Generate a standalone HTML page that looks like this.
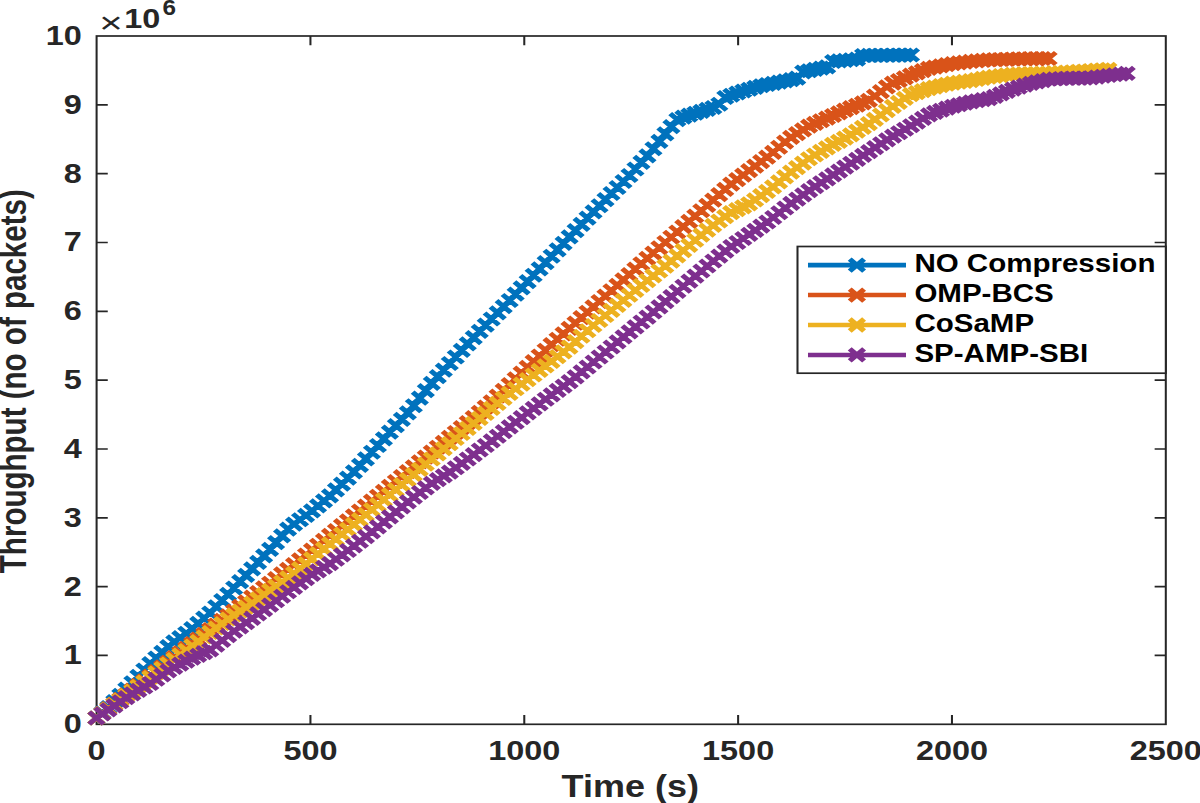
<!DOCTYPE html>
<html lang="en"><head><meta charset="utf-8"><title>Throughput vs Time</title>
<style>
html,body{margin:0;padding:0;background:#fff}
body{width:1200px;height:803px;overflow:hidden;position:relative}
svg{position:absolute;left:0;top:0;display:block}
text{font-family:"Liberation Sans",sans-serif;font-weight:bold;fill:#262626}
path,rect.f{fill:none}
</style></head><body>
<svg width="1200" height="803" viewBox="0 0 1200 803">
<rect width="1200" height="803" fill="#fff"/>
<g transform="scale(1.200 1)">
<rect class="f" x="80.50" y="36.00" width="891.00" height="688.30" stroke="#262626" stroke-width="1.70"/>
<path d="M258.70 724.30v-9.30M258.70 36.00v9.30M436.90 724.30v-9.30M436.90 36.00v9.30M615.10 724.30v-9.30M615.10 36.00v9.30M793.30 724.30v-9.30M793.30 36.00v9.30M80.50 655.47h9.30M971.50 655.47h-9.30M80.50 586.64h9.30M971.50 586.64h-9.30M80.50 517.81h9.30M971.50 517.81h-9.30M80.50 448.98h9.30M971.50 448.98h-9.30M80.50 380.15h9.30M971.50 380.15h-9.30M80.50 311.32h9.30M971.50 311.32h-9.30M80.50 242.49h9.30M971.50 242.49h-9.30M80.50 173.66h9.30M971.50 173.66h-9.30M80.50 104.83h9.30M971.50 104.83h-9.30" stroke="#262626" stroke-width="1.70"/>
<path d="M80.33 718.00L85.32 712.85L90.32 707.69L95.31 701.69L100.30 695.37L105.29 689.05L110.28 682.72L115.27 676.37L120.26 670.02L125.26 663.71L130.25 658.02L135.24 652.33L140.23 646.64L145.22 641.91L150.21 637.56L155.20 633.22L160.20 628.57L165.19 623.39L170.18 618.20L175.17 612.99L180.16 606.76L185.15 600.53L190.14 594.30L195.14 587.99L200.13 581.64L205.12 575.29L210.11 568.88L215.10 562.35L220.09 555.82L225.08 549.29L230.08 542.58L235.07 535.87L240.06 529.16L245.05 524.08L250.04 519.76L255.03 515.45L260.02 510.90L265.02 505.86L270.01 500.83L275.00 495.80L279.99 489.93L284.98 484.06L289.97 478.19L294.96 471.89L299.96 465.36L304.95 458.83L309.94 452.24L314.93 445.53L319.92 438.83L324.91 432.12L329.90 425.70L334.90 419.29L339.89 412.88L344.88 405.72L349.87 398.15L354.86 390.57L359.85 383.29L364.84 376.71L369.84 370.12L374.83 363.53L379.82 356.97L384.81 350.41L389.80 343.85L394.79 337.54L399.78 331.37L404.78 325.20L409.77 319.03L414.76 312.86L419.75 306.69L424.74 300.52L429.73 294.21L434.72 287.89L439.72 281.57L444.71 275.25L449.70 268.93L454.69 262.61L459.68 256.26L464.67 249.82L469.66 243.38L474.66 236.94L479.65 230.64L484.64 224.36L489.63 218.07L494.62 211.87L499.61 205.73L504.60 199.59L509.60 193.49L514.59 187.50L519.58 181.51L524.57 175.52L529.56 168.98L534.55 162.39L539.54 155.80L544.54 148.75L549.53 141.35L554.52 133.95L559.51 126.66L564.50 119.70L569.49 117.20L574.48 115.21L579.48 113.27L584.47 111.35L589.46 109.42L594.45 107.50L599.44 104.23L604.43 97.51L609.42 95.26L614.42 93.01L619.41 91.01L624.40 89.22L629.39 87.42L634.38 85.75L639.37 84.53L644.36 83.32L649.36 82.10L654.35 80.89L659.34 79.67L664.33 78.21L669.32 72.03L674.31 70.75L679.30 69.46L684.30 68.18L689.29 66.90L694.28 61.49L699.27 60.91L704.26 60.34L709.25 59.76L714.24 59.18L719.24 55.50L724.23 55.44L729.22 55.37L734.21 55.31L739.20 55.25L744.19 55.19L749.18 55.12L754.18 55.06L759.17 55.00" stroke="#0072BD" stroke-width="4.60" stroke-linejoin="round"/>
<path d="M74.33 712.00l12.00 12.00M74.33 724.00l12.00 -12.00M79.32 706.85l12.00 12.00M79.32 718.85l12.00 -12.00M84.32 701.69l12.00 12.00M84.32 713.69l12.00 -12.00M89.31 695.69l12.00 12.00M89.31 707.69l12.00 -12.00M94.30 689.37l12.00 12.00M94.30 701.37l12.00 -12.00M99.29 683.05l12.00 12.00M99.29 695.05l12.00 -12.00M104.28 676.72l12.00 12.00M104.28 688.72l12.00 -12.00M109.27 670.37l12.00 12.00M109.27 682.37l12.00 -12.00M114.26 664.02l12.00 12.00M114.26 676.02l12.00 -12.00M119.26 657.71l12.00 12.00M119.26 669.71l12.00 -12.00M124.25 652.02l12.00 12.00M124.25 664.02l12.00 -12.00M129.24 646.33l12.00 12.00M129.24 658.33l12.00 -12.00M134.23 640.64l12.00 12.00M134.23 652.64l12.00 -12.00M139.22 635.91l12.00 12.00M139.22 647.91l12.00 -12.00M144.21 631.56l12.00 12.00M144.21 643.56l12.00 -12.00M149.20 627.22l12.00 12.00M149.20 639.22l12.00 -12.00M154.20 622.57l12.00 12.00M154.20 634.57l12.00 -12.00M159.19 617.39l12.00 12.00M159.19 629.39l12.00 -12.00M164.18 612.20l12.00 12.00M164.18 624.20l12.00 -12.00M169.17 606.99l12.00 12.00M169.17 618.99l12.00 -12.00M174.16 600.76l12.00 12.00M174.16 612.76l12.00 -12.00M179.15 594.53l12.00 12.00M179.15 606.53l12.00 -12.00M184.14 588.30l12.00 12.00M184.14 600.30l12.00 -12.00M189.14 581.99l12.00 12.00M189.14 593.99l12.00 -12.00M194.13 575.64l12.00 12.00M194.13 587.64l12.00 -12.00M199.12 569.29l12.00 12.00M199.12 581.29l12.00 -12.00M204.11 562.88l12.00 12.00M204.11 574.88l12.00 -12.00M209.10 556.35l12.00 12.00M209.10 568.35l12.00 -12.00M214.09 549.82l12.00 12.00M214.09 561.82l12.00 -12.00M219.08 543.29l12.00 12.00M219.08 555.29l12.00 -12.00M224.08 536.58l12.00 12.00M224.08 548.58l12.00 -12.00M229.07 529.87l12.00 12.00M229.07 541.87l12.00 -12.00M234.06 523.16l12.00 12.00M234.06 535.16l12.00 -12.00M239.05 518.08l12.00 12.00M239.05 530.08l12.00 -12.00M244.04 513.76l12.00 12.00M244.04 525.76l12.00 -12.00M249.03 509.45l12.00 12.00M249.03 521.45l12.00 -12.00M254.02 504.90l12.00 12.00M254.02 516.90l12.00 -12.00M259.02 499.86l12.00 12.00M259.02 511.86l12.00 -12.00M264.01 494.83l12.00 12.00M264.01 506.83l12.00 -12.00M269.00 489.80l12.00 12.00M269.00 501.80l12.00 -12.00M273.99 483.93l12.00 12.00M273.99 495.93l12.00 -12.00M278.98 478.06l12.00 12.00M278.98 490.06l12.00 -12.00M283.97 472.19l12.00 12.00M283.97 484.19l12.00 -12.00M288.96 465.89l12.00 12.00M288.96 477.89l12.00 -12.00M293.96 459.36l12.00 12.00M293.96 471.36l12.00 -12.00M298.95 452.83l12.00 12.00M298.95 464.83l12.00 -12.00M303.94 446.24l12.00 12.00M303.94 458.24l12.00 -12.00M308.93 439.53l12.00 12.00M308.93 451.53l12.00 -12.00M313.92 432.83l12.00 12.00M313.92 444.83l12.00 -12.00M318.91 426.12l12.00 12.00M318.91 438.12l12.00 -12.00M323.90 419.70l12.00 12.00M323.90 431.70l12.00 -12.00M328.90 413.29l12.00 12.00M328.90 425.29l12.00 -12.00M333.89 406.88l12.00 12.00M333.89 418.88l12.00 -12.00M338.88 399.72l12.00 12.00M338.88 411.72l12.00 -12.00M343.87 392.15l12.00 12.00M343.87 404.15l12.00 -12.00M348.86 384.57l12.00 12.00M348.86 396.57l12.00 -12.00M353.85 377.29l12.00 12.00M353.85 389.29l12.00 -12.00M358.84 370.71l12.00 12.00M358.84 382.71l12.00 -12.00M363.84 364.12l12.00 12.00M363.84 376.12l12.00 -12.00M368.83 357.53l12.00 12.00M368.83 369.53l12.00 -12.00M373.82 350.97l12.00 12.00M373.82 362.97l12.00 -12.00M378.81 344.41l12.00 12.00M378.81 356.41l12.00 -12.00M383.80 337.85l12.00 12.00M383.80 349.85l12.00 -12.00M388.79 331.54l12.00 12.00M388.79 343.54l12.00 -12.00M393.78 325.37l12.00 12.00M393.78 337.37l12.00 -12.00M398.78 319.20l12.00 12.00M398.78 331.20l12.00 -12.00M403.77 313.03l12.00 12.00M403.77 325.03l12.00 -12.00M408.76 306.86l12.00 12.00M408.76 318.86l12.00 -12.00M413.75 300.69l12.00 12.00M413.75 312.69l12.00 -12.00M418.74 294.52l12.00 12.00M418.74 306.52l12.00 -12.00M423.73 288.21l12.00 12.00M423.73 300.21l12.00 -12.00M428.72 281.89l12.00 12.00M428.72 293.89l12.00 -12.00M433.72 275.57l12.00 12.00M433.72 287.57l12.00 -12.00M438.71 269.25l12.00 12.00M438.71 281.25l12.00 -12.00M443.70 262.93l12.00 12.00M443.70 274.93l12.00 -12.00M448.69 256.61l12.00 12.00M448.69 268.61l12.00 -12.00M453.68 250.26l12.00 12.00M453.68 262.26l12.00 -12.00M458.67 243.82l12.00 12.00M458.67 255.82l12.00 -12.00M463.66 237.38l12.00 12.00M463.66 249.38l12.00 -12.00M468.66 230.94l12.00 12.00M468.66 242.94l12.00 -12.00M473.65 224.64l12.00 12.00M473.65 236.64l12.00 -12.00M478.64 218.36l12.00 12.00M478.64 230.36l12.00 -12.00M483.63 212.07l12.00 12.00M483.63 224.07l12.00 -12.00M488.62 205.87l12.00 12.00M488.62 217.87l12.00 -12.00M493.61 199.73l12.00 12.00M493.61 211.73l12.00 -12.00M498.60 193.59l12.00 12.00M498.60 205.59l12.00 -12.00M503.60 187.49l12.00 12.00M503.60 199.49l12.00 -12.00M508.59 181.50l12.00 12.00M508.59 193.50l12.00 -12.00M513.58 175.51l12.00 12.00M513.58 187.51l12.00 -12.00M518.57 169.52l12.00 12.00M518.57 181.52l12.00 -12.00M523.56 162.98l12.00 12.00M523.56 174.98l12.00 -12.00M528.55 156.39l12.00 12.00M528.55 168.39l12.00 -12.00M533.54 149.80l12.00 12.00M533.54 161.80l12.00 -12.00M538.54 142.75l12.00 12.00M538.54 154.75l12.00 -12.00M543.53 135.35l12.00 12.00M543.53 147.35l12.00 -12.00M548.52 127.95l12.00 12.00M548.52 139.95l12.00 -12.00M553.51 120.66l12.00 12.00M553.51 132.66l12.00 -12.00M558.50 113.70l12.00 12.00M558.50 125.70l12.00 -12.00M563.49 111.20l12.00 12.00M563.49 123.20l12.00 -12.00M568.48 109.21l12.00 12.00M568.48 121.21l12.00 -12.00M573.48 107.27l12.00 12.00M573.48 119.27l12.00 -12.00M578.47 105.35l12.00 12.00M578.47 117.35l12.00 -12.00M583.46 103.42l12.00 12.00M583.46 115.42l12.00 -12.00M588.45 101.50l12.00 12.00M588.45 113.50l12.00 -12.00M593.44 98.23l12.00 12.00M593.44 110.23l12.00 -12.00M598.43 91.51l12.00 12.00M598.43 103.51l12.00 -12.00M603.42 89.26l12.00 12.00M603.42 101.26l12.00 -12.00M608.42 87.01l12.00 12.00M608.42 99.01l12.00 -12.00M613.41 85.01l12.00 12.00M613.41 97.01l12.00 -12.00M618.40 83.22l12.00 12.00M618.40 95.22l12.00 -12.00M623.39 81.42l12.00 12.00M623.39 93.42l12.00 -12.00M628.38 79.75l12.00 12.00M628.38 91.75l12.00 -12.00M633.37 78.53l12.00 12.00M633.37 90.53l12.00 -12.00M638.36 77.32l12.00 12.00M638.36 89.32l12.00 -12.00M643.36 76.10l12.00 12.00M643.36 88.10l12.00 -12.00M648.35 74.89l12.00 12.00M648.35 86.89l12.00 -12.00M653.34 73.67l12.00 12.00M653.34 85.67l12.00 -12.00M658.33 72.21l12.00 12.00M658.33 84.21l12.00 -12.00M663.32 66.03l12.00 12.00M663.32 78.03l12.00 -12.00M668.31 64.75l12.00 12.00M668.31 76.75l12.00 -12.00M673.30 63.46l12.00 12.00M673.30 75.46l12.00 -12.00M678.30 62.18l12.00 12.00M678.30 74.18l12.00 -12.00M683.29 60.90l12.00 12.00M683.29 72.90l12.00 -12.00M688.28 55.49l12.00 12.00M688.28 67.49l12.00 -12.00M693.27 54.91l12.00 12.00M693.27 66.91l12.00 -12.00M698.26 54.34l12.00 12.00M698.26 66.34l12.00 -12.00M703.25 53.76l12.00 12.00M703.25 65.76l12.00 -12.00M708.24 53.18l12.00 12.00M708.24 65.18l12.00 -12.00M713.24 49.50l12.00 12.00M713.24 61.50l12.00 -12.00M718.23 49.44l12.00 12.00M718.23 61.44l12.00 -12.00M723.22 49.37l12.00 12.00M723.22 61.37l12.00 -12.00M728.21 49.31l12.00 12.00M728.21 61.31l12.00 -12.00M733.20 49.25l12.00 12.00M733.20 61.25l12.00 -12.00M738.19 49.19l12.00 12.00M738.19 61.19l12.00 -12.00M743.18 49.12l12.00 12.00M743.18 61.12l12.00 -12.00M748.18 49.06l12.00 12.00M748.18 61.06l12.00 -12.00M753.17 49.00l12.00 12.00M753.17 61.00l12.00 -12.00" stroke="#0072BD" stroke-width="4.50"/>
<path d="M80.33 718.00L85.32 713.33L90.31 708.66L95.31 704.02L100.30 699.38L105.29 694.73L110.28 690.09L115.27 685.45L120.26 680.81L125.25 676.17L130.24 671.53L135.23 666.89L140.22 662.25L145.21 657.60L150.20 652.96L155.19 648.32L160.18 643.67L165.17 639.00L170.16 634.33L175.15 629.66L180.14 625.02L185.14 620.37L190.13 615.73L195.12 611.09L200.11 606.45L205.10 601.81L210.09 597.17L215.08 592.53L220.07 587.89L225.06 583.24L230.05 578.60L235.04 573.96L240.03 569.32L245.02 564.58L250.01 559.79L255.00 555.00L259.99 550.17L264.98 545.26L269.97 540.34L274.97 535.43L279.96 530.55L284.95 525.67L289.94 520.79L294.93 515.89L299.92 510.98L304.91 506.07L309.90 501.16L314.89 496.25L319.88 491.34L324.87 486.43L329.86 481.52L334.85 476.61L339.84 471.69L344.83 466.80L349.82 461.92L354.81 457.04L359.81 452.15L364.80 447.24L369.79 442.33L374.78 437.42L379.77 432.51L384.76 427.60L389.75 422.69L394.74 417.59L399.73 412.38L404.72 407.17L409.71 401.81L414.70 396.06L419.69 390.32L424.68 384.57L429.67 378.84L434.66 373.13L439.65 367.41L444.64 361.69L449.64 355.97L454.63 350.25L459.62 344.61L464.61 339.22L469.60 333.83L474.59 328.44L479.58 323.06L484.57 317.67L489.56 312.28L494.55 306.89L499.54 301.50L504.53 296.11L509.52 290.72L514.51 285.33L519.50 279.94L524.49 274.55L529.48 269.16L534.47 263.77L539.47 258.38L544.46 253.05L549.45 247.78L554.44 242.51L559.43 237.24L564.42 231.97L569.41 226.70L574.40 221.43L579.39 216.11L584.38 210.78L589.37 205.45L594.36 200.09L599.35 194.70L604.34 189.31L609.33 184.10L614.32 179.61L619.31 175.12L624.31 170.63L629.30 166.13L634.29 161.64L639.28 157.15L644.27 152.35L649.26 147.26L654.25 142.17L659.24 137.33L664.23 133.61L669.22 129.90L674.21 126.19L679.20 123.38L684.19 120.75L689.18 118.11L694.17 115.48L699.16 112.84L704.15 110.21L709.14 107.61L714.14 105.22L719.13 102.82L724.12 100.42L729.11 96.18L734.10 91.54L739.09 86.90L744.08 83.20L749.07 80.50L754.06 77.81L759.05 75.18L764.04 72.93L769.03 70.69L774.02 68.44L779.01 67.04L784.00 65.84L788.99 64.64L793.98 63.64L798.97 62.86L803.97 62.08L808.96 61.34L813.95 60.86L818.94 60.38L823.93 59.90L828.92 59.66L833.91 59.48L838.90 59.30L843.89 59.12L848.88 58.94L853.87 58.76L858.86 58.60L863.85 58.56L868.84 58.53L873.83 58.50" stroke="#D95319" stroke-width="4.60" stroke-linejoin="round"/>
<path d="M74.33 712.00l12.00 12.00M74.33 724.00l12.00 -12.00M79.32 707.33l12.00 12.00M79.32 719.33l12.00 -12.00M84.31 702.66l12.00 12.00M84.31 714.66l12.00 -12.00M89.31 698.02l12.00 12.00M89.31 710.02l12.00 -12.00M94.30 693.38l12.00 12.00M94.30 705.38l12.00 -12.00M99.29 688.73l12.00 12.00M99.29 700.73l12.00 -12.00M104.28 684.09l12.00 12.00M104.28 696.09l12.00 -12.00M109.27 679.45l12.00 12.00M109.27 691.45l12.00 -12.00M114.26 674.81l12.00 12.00M114.26 686.81l12.00 -12.00M119.25 670.17l12.00 12.00M119.25 682.17l12.00 -12.00M124.24 665.53l12.00 12.00M124.24 677.53l12.00 -12.00M129.23 660.89l12.00 12.00M129.23 672.89l12.00 -12.00M134.22 656.25l12.00 12.00M134.22 668.25l12.00 -12.00M139.21 651.60l12.00 12.00M139.21 663.60l12.00 -12.00M144.20 646.96l12.00 12.00M144.20 658.96l12.00 -12.00M149.19 642.32l12.00 12.00M149.19 654.32l12.00 -12.00M154.18 637.67l12.00 12.00M154.18 649.67l12.00 -12.00M159.17 633.00l12.00 12.00M159.17 645.00l12.00 -12.00M164.16 628.33l12.00 12.00M164.16 640.33l12.00 -12.00M169.15 623.66l12.00 12.00M169.15 635.66l12.00 -12.00M174.14 619.02l12.00 12.00M174.14 631.02l12.00 -12.00M179.14 614.37l12.00 12.00M179.14 626.37l12.00 -12.00M184.13 609.73l12.00 12.00M184.13 621.73l12.00 -12.00M189.12 605.09l12.00 12.00M189.12 617.09l12.00 -12.00M194.11 600.45l12.00 12.00M194.11 612.45l12.00 -12.00M199.10 595.81l12.00 12.00M199.10 607.81l12.00 -12.00M204.09 591.17l12.00 12.00M204.09 603.17l12.00 -12.00M209.08 586.53l12.00 12.00M209.08 598.53l12.00 -12.00M214.07 581.89l12.00 12.00M214.07 593.89l12.00 -12.00M219.06 577.24l12.00 12.00M219.06 589.24l12.00 -12.00M224.05 572.60l12.00 12.00M224.05 584.60l12.00 -12.00M229.04 567.96l12.00 12.00M229.04 579.96l12.00 -12.00M234.03 563.32l12.00 12.00M234.03 575.32l12.00 -12.00M239.02 558.58l12.00 12.00M239.02 570.58l12.00 -12.00M244.01 553.79l12.00 12.00M244.01 565.79l12.00 -12.00M249.00 549.00l12.00 12.00M249.00 561.00l12.00 -12.00M253.99 544.17l12.00 12.00M253.99 556.17l12.00 -12.00M258.98 539.26l12.00 12.00M258.98 551.26l12.00 -12.00M263.97 534.34l12.00 12.00M263.97 546.34l12.00 -12.00M268.97 529.43l12.00 12.00M268.97 541.43l12.00 -12.00M273.96 524.55l12.00 12.00M273.96 536.55l12.00 -12.00M278.95 519.67l12.00 12.00M278.95 531.67l12.00 -12.00M283.94 514.79l12.00 12.00M283.94 526.79l12.00 -12.00M288.93 509.89l12.00 12.00M288.93 521.89l12.00 -12.00M293.92 504.98l12.00 12.00M293.92 516.98l12.00 -12.00M298.91 500.07l12.00 12.00M298.91 512.07l12.00 -12.00M303.90 495.16l12.00 12.00M303.90 507.16l12.00 -12.00M308.89 490.25l12.00 12.00M308.89 502.25l12.00 -12.00M313.88 485.34l12.00 12.00M313.88 497.34l12.00 -12.00M318.87 480.43l12.00 12.00M318.87 492.43l12.00 -12.00M323.86 475.52l12.00 12.00M323.86 487.52l12.00 -12.00M328.85 470.61l12.00 12.00M328.85 482.61l12.00 -12.00M333.84 465.69l12.00 12.00M333.84 477.69l12.00 -12.00M338.83 460.80l12.00 12.00M338.83 472.80l12.00 -12.00M343.82 455.92l12.00 12.00M343.82 467.92l12.00 -12.00M348.81 451.04l12.00 12.00M348.81 463.04l12.00 -12.00M353.81 446.15l12.00 12.00M353.81 458.15l12.00 -12.00M358.80 441.24l12.00 12.00M358.80 453.24l12.00 -12.00M363.79 436.33l12.00 12.00M363.79 448.33l12.00 -12.00M368.78 431.42l12.00 12.00M368.78 443.42l12.00 -12.00M373.77 426.51l12.00 12.00M373.77 438.51l12.00 -12.00M378.76 421.60l12.00 12.00M378.76 433.60l12.00 -12.00M383.75 416.69l12.00 12.00M383.75 428.69l12.00 -12.00M388.74 411.59l12.00 12.00M388.74 423.59l12.00 -12.00M393.73 406.38l12.00 12.00M393.73 418.38l12.00 -12.00M398.72 401.17l12.00 12.00M398.72 413.17l12.00 -12.00M403.71 395.81l12.00 12.00M403.71 407.81l12.00 -12.00M408.70 390.06l12.00 12.00M408.70 402.06l12.00 -12.00M413.69 384.32l12.00 12.00M413.69 396.32l12.00 -12.00M418.68 378.57l12.00 12.00M418.68 390.57l12.00 -12.00M423.67 372.84l12.00 12.00M423.67 384.84l12.00 -12.00M428.66 367.13l12.00 12.00M428.66 379.13l12.00 -12.00M433.65 361.41l12.00 12.00M433.65 373.41l12.00 -12.00M438.64 355.69l12.00 12.00M438.64 367.69l12.00 -12.00M443.64 349.97l12.00 12.00M443.64 361.97l12.00 -12.00M448.63 344.25l12.00 12.00M448.63 356.25l12.00 -12.00M453.62 338.61l12.00 12.00M453.62 350.61l12.00 -12.00M458.61 333.22l12.00 12.00M458.61 345.22l12.00 -12.00M463.60 327.83l12.00 12.00M463.60 339.83l12.00 -12.00M468.59 322.44l12.00 12.00M468.59 334.44l12.00 -12.00M473.58 317.06l12.00 12.00M473.58 329.06l12.00 -12.00M478.57 311.67l12.00 12.00M478.57 323.67l12.00 -12.00M483.56 306.28l12.00 12.00M483.56 318.28l12.00 -12.00M488.55 300.89l12.00 12.00M488.55 312.89l12.00 -12.00M493.54 295.50l12.00 12.00M493.54 307.50l12.00 -12.00M498.53 290.11l12.00 12.00M498.53 302.11l12.00 -12.00M503.52 284.72l12.00 12.00M503.52 296.72l12.00 -12.00M508.51 279.33l12.00 12.00M508.51 291.33l12.00 -12.00M513.50 273.94l12.00 12.00M513.50 285.94l12.00 -12.00M518.49 268.55l12.00 12.00M518.49 280.55l12.00 -12.00M523.48 263.16l12.00 12.00M523.48 275.16l12.00 -12.00M528.47 257.77l12.00 12.00M528.47 269.77l12.00 -12.00M533.47 252.38l12.00 12.00M533.47 264.38l12.00 -12.00M538.46 247.05l12.00 12.00M538.46 259.05l12.00 -12.00M543.45 241.78l12.00 12.00M543.45 253.78l12.00 -12.00M548.44 236.51l12.00 12.00M548.44 248.51l12.00 -12.00M553.43 231.24l12.00 12.00M553.43 243.24l12.00 -12.00M558.42 225.97l12.00 12.00M558.42 237.97l12.00 -12.00M563.41 220.70l12.00 12.00M563.41 232.70l12.00 -12.00M568.40 215.43l12.00 12.00M568.40 227.43l12.00 -12.00M573.39 210.11l12.00 12.00M573.39 222.11l12.00 -12.00M578.38 204.78l12.00 12.00M578.38 216.78l12.00 -12.00M583.37 199.45l12.00 12.00M583.37 211.45l12.00 -12.00M588.36 194.09l12.00 12.00M588.36 206.09l12.00 -12.00M593.35 188.70l12.00 12.00M593.35 200.70l12.00 -12.00M598.34 183.31l12.00 12.00M598.34 195.31l12.00 -12.00M603.33 178.10l12.00 12.00M603.33 190.10l12.00 -12.00M608.32 173.61l12.00 12.00M608.32 185.61l12.00 -12.00M613.31 169.12l12.00 12.00M613.31 181.12l12.00 -12.00M618.31 164.63l12.00 12.00M618.31 176.63l12.00 -12.00M623.30 160.13l12.00 12.00M623.30 172.13l12.00 -12.00M628.29 155.64l12.00 12.00M628.29 167.64l12.00 -12.00M633.28 151.15l12.00 12.00M633.28 163.15l12.00 -12.00M638.27 146.35l12.00 12.00M638.27 158.35l12.00 -12.00M643.26 141.26l12.00 12.00M643.26 153.26l12.00 -12.00M648.25 136.17l12.00 12.00M648.25 148.17l12.00 -12.00M653.24 131.33l12.00 12.00M653.24 143.33l12.00 -12.00M658.23 127.61l12.00 12.00M658.23 139.61l12.00 -12.00M663.22 123.90l12.00 12.00M663.22 135.90l12.00 -12.00M668.21 120.19l12.00 12.00M668.21 132.19l12.00 -12.00M673.20 117.38l12.00 12.00M673.20 129.38l12.00 -12.00M678.19 114.75l12.00 12.00M678.19 126.75l12.00 -12.00M683.18 112.11l12.00 12.00M683.18 124.11l12.00 -12.00M688.17 109.48l12.00 12.00M688.17 121.48l12.00 -12.00M693.16 106.84l12.00 12.00M693.16 118.84l12.00 -12.00M698.15 104.21l12.00 12.00M698.15 116.21l12.00 -12.00M703.14 101.61l12.00 12.00M703.14 113.61l12.00 -12.00M708.14 99.22l12.00 12.00M708.14 111.22l12.00 -12.00M713.13 96.82l12.00 12.00M713.13 108.82l12.00 -12.00M718.12 94.42l12.00 12.00M718.12 106.42l12.00 -12.00M723.11 90.18l12.00 12.00M723.11 102.18l12.00 -12.00M728.10 85.54l12.00 12.00M728.10 97.54l12.00 -12.00M733.09 80.90l12.00 12.00M733.09 92.90l12.00 -12.00M738.08 77.20l12.00 12.00M738.08 89.20l12.00 -12.00M743.07 74.50l12.00 12.00M743.07 86.50l12.00 -12.00M748.06 71.81l12.00 12.00M748.06 83.81l12.00 -12.00M753.05 69.18l12.00 12.00M753.05 81.18l12.00 -12.00M758.04 66.93l12.00 12.00M758.04 78.93l12.00 -12.00M763.03 64.69l12.00 12.00M763.03 76.69l12.00 -12.00M768.02 62.44l12.00 12.00M768.02 74.44l12.00 -12.00M773.01 61.04l12.00 12.00M773.01 73.04l12.00 -12.00M778.00 59.84l12.00 12.00M778.00 71.84l12.00 -12.00M782.99 58.64l12.00 12.00M782.99 70.64l12.00 -12.00M787.98 57.64l12.00 12.00M787.98 69.64l12.00 -12.00M792.97 56.86l12.00 12.00M792.97 68.86l12.00 -12.00M797.97 56.08l12.00 12.00M797.97 68.08l12.00 -12.00M802.96 55.34l12.00 12.00M802.96 67.34l12.00 -12.00M807.95 54.86l12.00 12.00M807.95 66.86l12.00 -12.00M812.94 54.38l12.00 12.00M812.94 66.38l12.00 -12.00M817.93 53.90l12.00 12.00M817.93 65.90l12.00 -12.00M822.92 53.66l12.00 12.00M822.92 65.66l12.00 -12.00M827.91 53.48l12.00 12.00M827.91 65.48l12.00 -12.00M832.90 53.30l12.00 12.00M832.90 65.30l12.00 -12.00M837.89 53.12l12.00 12.00M837.89 65.12l12.00 -12.00M842.88 52.94l12.00 12.00M842.88 64.94l12.00 -12.00M847.87 52.76l12.00 12.00M847.87 64.76l12.00 -12.00M852.86 52.60l12.00 12.00M852.86 64.60l12.00 -12.00M857.85 52.56l12.00 12.00M857.85 64.56l12.00 -12.00M862.84 52.53l12.00 12.00M862.84 64.53l12.00 -12.00M867.83 52.50l12.00 12.00M867.83 64.50l12.00 -12.00" stroke="#D95319" stroke-width="4.50"/>
<path d="M80.33 718.00L85.32 713.51L90.31 709.02L95.30 704.53L100.29 700.04L105.28 695.54L110.27 691.04L115.26 686.52L120.25 682.00L125.24 677.48L130.23 672.99L135.22 668.50L140.21 664.01L145.21 659.52L150.20 655.02L155.19 650.53L160.18 646.03L165.17 641.51L170.16 636.99L175.15 632.47L180.14 627.98L185.13 623.49L190.12 619.00L195.11 614.92L200.10 611.02L205.09 607.13L210.08 603.12L215.07 598.90L220.06 594.68L225.05 590.46L230.04 586.27L235.03 582.08L240.02 577.89L245.01 573.31L250.00 568.55L254.99 563.79L259.98 558.95L264.97 553.95L269.96 548.95L274.95 543.95L279.94 539.07L284.93 534.19L289.92 529.31L294.91 524.43L299.90 519.55L304.89 514.67L309.88 509.75L314.87 504.75L319.86 499.75L324.85 494.75L329.84 489.72L334.83 484.69L339.82 479.66L344.81 474.54L349.80 469.36L354.79 464.18L359.78 459.01L364.77 453.86L369.76 448.71L374.75 443.56L379.74 438.52L384.73 433.49L389.72 428.46L394.71 423.45L399.70 418.45L404.69 413.45L409.68 408.44L414.67 403.41L419.66 398.38L424.65 393.35L429.64 388.74L434.63 384.16L439.62 379.58L444.61 375.01L449.60 370.46L454.59 365.91L459.58 361.31L464.57 356.58L469.56 351.85L474.55 347.12L479.54 341.71L484.53 336.23L489.52 330.75L494.51 325.53L499.50 320.50L504.50 315.47L509.49 310.43L514.48 305.37L519.47 300.31L524.46 295.25L529.45 290.38L534.44 285.53L539.43 280.68L544.42 275.83L549.41 270.98L554.40 266.13L559.39 261.19L564.38 255.92L569.37 250.65L574.36 245.38L579.35 240.27L584.34 235.18L589.33 230.09L594.32 225.38L599.31 221.01L604.30 216.64L609.29 212.55L614.28 209.68L619.27 206.80L624.26 203.93L629.25 199.91L634.24 195.68L639.23 191.46L644.22 186.86L649.21 181.89L654.20 176.92L659.19 172.04L664.18 167.61L669.17 163.18L674.16 158.75L679.15 155.01L684.14 151.42L689.13 147.83L694.12 144.45L699.11 141.31L704.10 138.17L709.09 134.93L714.08 131.19L719.07 127.45L724.06 123.70L729.05 119.40L734.04 114.97L739.03 110.54L744.02 106.32L749.01 102.34L754.00 98.36L758.99 94.64L763.98 92.63L768.97 90.62L773.96 88.62L778.95 87.09L783.94 85.68L788.93 84.27L793.92 83.12L798.91 82.28L803.90 81.44L808.89 80.58L813.88 79.47L818.87 78.36L823.86 77.25L828.85 76.38L833.84 75.57L838.83 74.76L843.82 74.22L848.81 74.04L853.80 73.86L858.79 73.69L863.79 73.54L868.78 73.39L873.77 73.24L878.76 72.93L883.75 72.57L888.74 72.21L893.73 71.84L898.72 71.45L903.71 71.06L908.70 70.67L913.69 70.21L918.68 69.76L923.67 69.30" stroke="#EDB120" stroke-width="4.60" stroke-linejoin="round"/>
<path d="M74.33 712.00l12.00 12.00M74.33 724.00l12.00 -12.00M79.32 707.51l12.00 12.00M79.32 719.51l12.00 -12.00M84.31 703.02l12.00 12.00M84.31 715.02l12.00 -12.00M89.30 698.53l12.00 12.00M89.30 710.53l12.00 -12.00M94.29 694.04l12.00 12.00M94.29 706.04l12.00 -12.00M99.28 689.54l12.00 12.00M99.28 701.54l12.00 -12.00M104.27 685.04l12.00 12.00M104.27 697.04l12.00 -12.00M109.26 680.52l12.00 12.00M109.26 692.52l12.00 -12.00M114.25 676.00l12.00 12.00M114.25 688.00l12.00 -12.00M119.24 671.48l12.00 12.00M119.24 683.48l12.00 -12.00M124.23 666.99l12.00 12.00M124.23 678.99l12.00 -12.00M129.22 662.50l12.00 12.00M129.22 674.50l12.00 -12.00M134.21 658.01l12.00 12.00M134.21 670.01l12.00 -12.00M139.21 653.52l12.00 12.00M139.21 665.52l12.00 -12.00M144.20 649.02l12.00 12.00M144.20 661.02l12.00 -12.00M149.19 644.53l12.00 12.00M149.19 656.53l12.00 -12.00M154.18 640.03l12.00 12.00M154.18 652.03l12.00 -12.00M159.17 635.51l12.00 12.00M159.17 647.51l12.00 -12.00M164.16 630.99l12.00 12.00M164.16 642.99l12.00 -12.00M169.15 626.47l12.00 12.00M169.15 638.47l12.00 -12.00M174.14 621.98l12.00 12.00M174.14 633.98l12.00 -12.00M179.13 617.49l12.00 12.00M179.13 629.49l12.00 -12.00M184.12 613.00l12.00 12.00M184.12 625.00l12.00 -12.00M189.11 608.92l12.00 12.00M189.11 620.92l12.00 -12.00M194.10 605.02l12.00 12.00M194.10 617.02l12.00 -12.00M199.09 601.13l12.00 12.00M199.09 613.13l12.00 -12.00M204.08 597.12l12.00 12.00M204.08 609.12l12.00 -12.00M209.07 592.90l12.00 12.00M209.07 604.90l12.00 -12.00M214.06 588.68l12.00 12.00M214.06 600.68l12.00 -12.00M219.05 584.46l12.00 12.00M219.05 596.46l12.00 -12.00M224.04 580.27l12.00 12.00M224.04 592.27l12.00 -12.00M229.03 576.08l12.00 12.00M229.03 588.08l12.00 -12.00M234.02 571.89l12.00 12.00M234.02 583.89l12.00 -12.00M239.01 567.31l12.00 12.00M239.01 579.31l12.00 -12.00M244.00 562.55l12.00 12.00M244.00 574.55l12.00 -12.00M248.99 557.79l12.00 12.00M248.99 569.79l12.00 -12.00M253.98 552.95l12.00 12.00M253.98 564.95l12.00 -12.00M258.97 547.95l12.00 12.00M258.97 559.95l12.00 -12.00M263.96 542.95l12.00 12.00M263.96 554.95l12.00 -12.00M268.95 537.95l12.00 12.00M268.95 549.95l12.00 -12.00M273.94 533.07l12.00 12.00M273.94 545.07l12.00 -12.00M278.93 528.19l12.00 12.00M278.93 540.19l12.00 -12.00M283.92 523.31l12.00 12.00M283.92 535.31l12.00 -12.00M288.91 518.43l12.00 12.00M288.91 530.43l12.00 -12.00M293.90 513.55l12.00 12.00M293.90 525.55l12.00 -12.00M298.89 508.67l12.00 12.00M298.89 520.67l12.00 -12.00M303.88 503.75l12.00 12.00M303.88 515.75l12.00 -12.00M308.87 498.75l12.00 12.00M308.87 510.75l12.00 -12.00M313.86 493.75l12.00 12.00M313.86 505.75l12.00 -12.00M318.85 488.75l12.00 12.00M318.85 500.75l12.00 -12.00M323.84 483.72l12.00 12.00M323.84 495.72l12.00 -12.00M328.83 478.69l12.00 12.00M328.83 490.69l12.00 -12.00M333.82 473.66l12.00 12.00M333.82 485.66l12.00 -12.00M338.81 468.54l12.00 12.00M338.81 480.54l12.00 -12.00M343.80 463.36l12.00 12.00M343.80 475.36l12.00 -12.00M348.79 458.18l12.00 12.00M348.79 470.18l12.00 -12.00M353.78 453.01l12.00 12.00M353.78 465.01l12.00 -12.00M358.77 447.86l12.00 12.00M358.77 459.86l12.00 -12.00M363.76 442.71l12.00 12.00M363.76 454.71l12.00 -12.00M368.75 437.56l12.00 12.00M368.75 449.56l12.00 -12.00M373.74 432.52l12.00 12.00M373.74 444.52l12.00 -12.00M378.73 427.49l12.00 12.00M378.73 439.49l12.00 -12.00M383.72 422.46l12.00 12.00M383.72 434.46l12.00 -12.00M388.71 417.45l12.00 12.00M388.71 429.45l12.00 -12.00M393.70 412.45l12.00 12.00M393.70 424.45l12.00 -12.00M398.69 407.45l12.00 12.00M398.69 419.45l12.00 -12.00M403.68 402.44l12.00 12.00M403.68 414.44l12.00 -12.00M408.67 397.41l12.00 12.00M408.67 409.41l12.00 -12.00M413.66 392.38l12.00 12.00M413.66 404.38l12.00 -12.00M418.65 387.35l12.00 12.00M418.65 399.35l12.00 -12.00M423.64 382.74l12.00 12.00M423.64 394.74l12.00 -12.00M428.63 378.16l12.00 12.00M428.63 390.16l12.00 -12.00M433.62 373.58l12.00 12.00M433.62 385.58l12.00 -12.00M438.61 369.01l12.00 12.00M438.61 381.01l12.00 -12.00M443.60 364.46l12.00 12.00M443.60 376.46l12.00 -12.00M448.59 359.91l12.00 12.00M448.59 371.91l12.00 -12.00M453.58 355.31l12.00 12.00M453.58 367.31l12.00 -12.00M458.57 350.58l12.00 12.00M458.57 362.58l12.00 -12.00M463.56 345.85l12.00 12.00M463.56 357.85l12.00 -12.00M468.55 341.12l12.00 12.00M468.55 353.12l12.00 -12.00M473.54 335.71l12.00 12.00M473.54 347.71l12.00 -12.00M478.53 330.23l12.00 12.00M478.53 342.23l12.00 -12.00M483.52 324.75l12.00 12.00M483.52 336.75l12.00 -12.00M488.51 319.53l12.00 12.00M488.51 331.53l12.00 -12.00M493.50 314.50l12.00 12.00M493.50 326.50l12.00 -12.00M498.50 309.47l12.00 12.00M498.50 321.47l12.00 -12.00M503.49 304.43l12.00 12.00M503.49 316.43l12.00 -12.00M508.48 299.37l12.00 12.00M508.48 311.37l12.00 -12.00M513.47 294.31l12.00 12.00M513.47 306.31l12.00 -12.00M518.46 289.25l12.00 12.00M518.46 301.25l12.00 -12.00M523.45 284.38l12.00 12.00M523.45 296.38l12.00 -12.00M528.44 279.53l12.00 12.00M528.44 291.53l12.00 -12.00M533.43 274.68l12.00 12.00M533.43 286.68l12.00 -12.00M538.42 269.83l12.00 12.00M538.42 281.83l12.00 -12.00M543.41 264.98l12.00 12.00M543.41 276.98l12.00 -12.00M548.40 260.13l12.00 12.00M548.40 272.13l12.00 -12.00M553.39 255.19l12.00 12.00M553.39 267.19l12.00 -12.00M558.38 249.92l12.00 12.00M558.38 261.92l12.00 -12.00M563.37 244.65l12.00 12.00M563.37 256.65l12.00 -12.00M568.36 239.38l12.00 12.00M568.36 251.38l12.00 -12.00M573.35 234.27l12.00 12.00M573.35 246.27l12.00 -12.00M578.34 229.18l12.00 12.00M578.34 241.18l12.00 -12.00M583.33 224.09l12.00 12.00M583.33 236.09l12.00 -12.00M588.32 219.38l12.00 12.00M588.32 231.38l12.00 -12.00M593.31 215.01l12.00 12.00M593.31 227.01l12.00 -12.00M598.30 210.64l12.00 12.00M598.30 222.64l12.00 -12.00M603.29 206.55l12.00 12.00M603.29 218.55l12.00 -12.00M608.28 203.68l12.00 12.00M608.28 215.68l12.00 -12.00M613.27 200.80l12.00 12.00M613.27 212.80l12.00 -12.00M618.26 197.93l12.00 12.00M618.26 209.93l12.00 -12.00M623.25 193.91l12.00 12.00M623.25 205.91l12.00 -12.00M628.24 189.68l12.00 12.00M628.24 201.68l12.00 -12.00M633.23 185.46l12.00 12.00M633.23 197.46l12.00 -12.00M638.22 180.86l12.00 12.00M638.22 192.86l12.00 -12.00M643.21 175.89l12.00 12.00M643.21 187.89l12.00 -12.00M648.20 170.92l12.00 12.00M648.20 182.92l12.00 -12.00M653.19 166.04l12.00 12.00M653.19 178.04l12.00 -12.00M658.18 161.61l12.00 12.00M658.18 173.61l12.00 -12.00M663.17 157.18l12.00 12.00M663.17 169.18l12.00 -12.00M668.16 152.75l12.00 12.00M668.16 164.75l12.00 -12.00M673.15 149.01l12.00 12.00M673.15 161.01l12.00 -12.00M678.14 145.42l12.00 12.00M678.14 157.42l12.00 -12.00M683.13 141.83l12.00 12.00M683.13 153.83l12.00 -12.00M688.12 138.45l12.00 12.00M688.12 150.45l12.00 -12.00M693.11 135.31l12.00 12.00M693.11 147.31l12.00 -12.00M698.10 132.17l12.00 12.00M698.10 144.17l12.00 -12.00M703.09 128.93l12.00 12.00M703.09 140.93l12.00 -12.00M708.08 125.19l12.00 12.00M708.08 137.19l12.00 -12.00M713.07 121.45l12.00 12.00M713.07 133.45l12.00 -12.00M718.06 117.70l12.00 12.00M718.06 129.70l12.00 -12.00M723.05 113.40l12.00 12.00M723.05 125.40l12.00 -12.00M728.04 108.97l12.00 12.00M728.04 120.97l12.00 -12.00M733.03 104.54l12.00 12.00M733.03 116.54l12.00 -12.00M738.02 100.32l12.00 12.00M738.02 112.32l12.00 -12.00M743.01 96.34l12.00 12.00M743.01 108.34l12.00 -12.00M748.00 92.36l12.00 12.00M748.00 104.36l12.00 -12.00M752.99 88.64l12.00 12.00M752.99 100.64l12.00 -12.00M757.98 86.63l12.00 12.00M757.98 98.63l12.00 -12.00M762.97 84.62l12.00 12.00M762.97 96.62l12.00 -12.00M767.96 82.62l12.00 12.00M767.96 94.62l12.00 -12.00M772.95 81.09l12.00 12.00M772.95 93.09l12.00 -12.00M777.94 79.68l12.00 12.00M777.94 91.68l12.00 -12.00M782.93 78.27l12.00 12.00M782.93 90.27l12.00 -12.00M787.92 77.12l12.00 12.00M787.92 89.12l12.00 -12.00M792.91 76.28l12.00 12.00M792.91 88.28l12.00 -12.00M797.90 75.44l12.00 12.00M797.90 87.44l12.00 -12.00M802.89 74.58l12.00 12.00M802.89 86.58l12.00 -12.00M807.88 73.47l12.00 12.00M807.88 85.47l12.00 -12.00M812.87 72.36l12.00 12.00M812.87 84.36l12.00 -12.00M817.86 71.25l12.00 12.00M817.86 83.25l12.00 -12.00M822.85 70.38l12.00 12.00M822.85 82.38l12.00 -12.00M827.84 69.57l12.00 12.00M827.84 81.57l12.00 -12.00M832.83 68.76l12.00 12.00M832.83 80.76l12.00 -12.00M837.82 68.22l12.00 12.00M837.82 80.22l12.00 -12.00M842.81 68.04l12.00 12.00M842.81 80.04l12.00 -12.00M847.80 67.86l12.00 12.00M847.80 79.86l12.00 -12.00M852.79 67.69l12.00 12.00M852.79 79.69l12.00 -12.00M857.79 67.54l12.00 12.00M857.79 79.54l12.00 -12.00M862.78 67.39l12.00 12.00M862.78 79.39l12.00 -12.00M867.77 67.24l12.00 12.00M867.77 79.24l12.00 -12.00M872.76 66.93l12.00 12.00M872.76 78.93l12.00 -12.00M877.75 66.57l12.00 12.00M877.75 78.57l12.00 -12.00M882.74 66.21l12.00 12.00M882.74 78.21l12.00 -12.00M887.73 65.84l12.00 12.00M887.73 77.84l12.00 -12.00M892.72 65.45l12.00 12.00M892.72 77.45l12.00 -12.00M897.71 65.06l12.00 12.00M897.71 77.06l12.00 -12.00M902.70 64.67l12.00 12.00M902.70 76.67l12.00 -12.00M907.69 64.21l12.00 12.00M907.69 76.21l12.00 -12.00M912.68 63.76l12.00 12.00M912.68 75.76l12.00 -12.00M917.67 63.30l12.00 12.00M917.67 75.30l12.00 -12.00" stroke="#EDB120" stroke-width="4.50"/>
<path d="M80.33 718.00L85.33 713.95L90.32 709.90L95.31 705.83L100.30 701.75L105.29 697.68L110.28 693.85L115.28 690.41L120.27 686.97L125.26 683.48L130.25 679.26L135.24 675.03L140.23 670.81L145.23 667.36L150.22 664.21L155.21 661.07L160.20 658.08L165.19 655.35L170.19 652.63L175.18 649.83L180.17 645.07L185.16 640.31L190.15 635.54L195.14 631.14L200.14 626.88L205.13 622.63L210.12 618.34L215.11 613.96L220.10 609.59L225.09 605.21L230.09 600.72L235.08 596.23L240.07 591.74L245.06 587.33L250.05 582.95L255.05 578.58L260.04 574.46L265.03 570.84L270.02 567.22L275.01 563.59L280.00 559.22L285.00 554.84L289.99 550.47L294.98 545.90L299.97 541.23L304.96 536.55L309.95 531.79L314.95 526.81L319.94 521.84L324.93 516.87L329.92 511.90L334.91 506.93L339.91 501.95L344.90 497.18L349.89 492.50L354.88 487.83L359.87 483.44L364.86 479.66L369.86 475.89L374.85 472.12L379.84 467.76L384.83 463.39L389.82 459.02L394.81 454.55L399.81 450.03L404.80 445.50L409.79 440.94L414.78 436.26L419.77 431.59L424.77 426.92L429.76 422.25L434.75 417.58L439.74 412.90L444.73 408.32L449.72 403.80L454.72 399.28L459.71 394.80L464.70 390.42L469.69 386.05L474.68 381.68L479.67 376.80L484.67 371.89L489.66 366.98L494.65 362.01L499.64 357.01L504.63 352.01L509.62 346.99L514.62 341.93L519.61 336.87L524.60 331.81L529.59 326.88L534.58 321.97L539.58 317.06L544.57 312.01L549.56 306.86L554.55 301.70L559.54 296.55L564.53 291.40L569.53 286.25L574.52 281.10L579.51 276.05L584.50 271.02L589.49 265.99L594.48 261.03L599.48 256.11L604.47 251.20L609.46 246.49L614.45 242.48L619.44 238.47L624.44 234.45L629.43 230.31L634.42 226.14L639.41 221.98L644.40 217.49L649.39 212.73L654.39 207.97L659.38 203.31L664.37 199.06L669.36 194.80L674.35 190.55L679.34 186.61L684.34 182.72L689.33 178.82L694.32 174.93L699.31 171.04L704.30 167.14L709.30 163.25L714.29 159.36L719.28 155.46L724.27 151.57L729.26 147.68L734.25 143.78L739.25 139.89L744.24 136.21L749.23 132.74L754.22 129.26L759.21 125.76L764.20 122.10L769.20 118.45L774.19 114.79L779.18 112.39L784.17 110.24L789.16 108.08L794.16 106.25L799.15 104.76L804.14 103.26L809.13 101.83L814.12 100.75L819.11 99.67L824.11 98.59L829.10 96.33L834.09 93.82L839.08 91.30L844.07 89.06L849.06 87.11L854.06 85.17L859.05 83.31L864.04 81.96L869.03 80.61L874.02 79.26L879.02 78.81L884.01 78.57L889.00 78.33L893.99 78.17L898.98 78.11L903.97 78.05L908.97 77.90L913.96 77.09L918.95 76.28L923.94 75.47L928.93 74.76L933.92 74.08L938.92 73.40" stroke="#7E2F8E" stroke-width="4.60" stroke-linejoin="round"/>
<path d="M74.33 712.00l12.00 12.00M74.33 724.00l12.00 -12.00M79.33 707.95l12.00 12.00M79.33 719.95l12.00 -12.00M84.32 703.90l12.00 12.00M84.32 715.90l12.00 -12.00M89.31 699.83l12.00 12.00M89.31 711.83l12.00 -12.00M94.30 695.75l12.00 12.00M94.30 707.75l12.00 -12.00M99.29 691.68l12.00 12.00M99.29 703.68l12.00 -12.00M104.28 687.85l12.00 12.00M104.28 699.85l12.00 -12.00M109.28 684.41l12.00 12.00M109.28 696.41l12.00 -12.00M114.27 680.97l12.00 12.00M114.27 692.97l12.00 -12.00M119.26 677.48l12.00 12.00M119.26 689.48l12.00 -12.00M124.25 673.26l12.00 12.00M124.25 685.26l12.00 -12.00M129.24 669.03l12.00 12.00M129.24 681.03l12.00 -12.00M134.23 664.81l12.00 12.00M134.23 676.81l12.00 -12.00M139.23 661.36l12.00 12.00M139.23 673.36l12.00 -12.00M144.22 658.21l12.00 12.00M144.22 670.21l12.00 -12.00M149.21 655.07l12.00 12.00M149.21 667.07l12.00 -12.00M154.20 652.08l12.00 12.00M154.20 664.08l12.00 -12.00M159.19 649.35l12.00 12.00M159.19 661.35l12.00 -12.00M164.19 646.63l12.00 12.00M164.19 658.63l12.00 -12.00M169.18 643.83l12.00 12.00M169.18 655.83l12.00 -12.00M174.17 639.07l12.00 12.00M174.17 651.07l12.00 -12.00M179.16 634.31l12.00 12.00M179.16 646.31l12.00 -12.00M184.15 629.54l12.00 12.00M184.15 641.54l12.00 -12.00M189.14 625.14l12.00 12.00M189.14 637.14l12.00 -12.00M194.14 620.88l12.00 12.00M194.14 632.88l12.00 -12.00M199.13 616.63l12.00 12.00M199.13 628.63l12.00 -12.00M204.12 612.34l12.00 12.00M204.12 624.34l12.00 -12.00M209.11 607.96l12.00 12.00M209.11 619.96l12.00 -12.00M214.10 603.59l12.00 12.00M214.10 615.59l12.00 -12.00M219.09 599.21l12.00 12.00M219.09 611.21l12.00 -12.00M224.09 594.72l12.00 12.00M224.09 606.72l12.00 -12.00M229.08 590.23l12.00 12.00M229.08 602.23l12.00 -12.00M234.07 585.74l12.00 12.00M234.07 597.74l12.00 -12.00M239.06 581.33l12.00 12.00M239.06 593.33l12.00 -12.00M244.05 576.95l12.00 12.00M244.05 588.95l12.00 -12.00M249.05 572.58l12.00 12.00M249.05 584.58l12.00 -12.00M254.04 568.46l12.00 12.00M254.04 580.46l12.00 -12.00M259.03 564.84l12.00 12.00M259.03 576.84l12.00 -12.00M264.02 561.22l12.00 12.00M264.02 573.22l12.00 -12.00M269.01 557.59l12.00 12.00M269.01 569.59l12.00 -12.00M274.00 553.22l12.00 12.00M274.00 565.22l12.00 -12.00M279.00 548.84l12.00 12.00M279.00 560.84l12.00 -12.00M283.99 544.47l12.00 12.00M283.99 556.47l12.00 -12.00M288.98 539.90l12.00 12.00M288.98 551.90l12.00 -12.00M293.97 535.23l12.00 12.00M293.97 547.23l12.00 -12.00M298.96 530.55l12.00 12.00M298.96 542.55l12.00 -12.00M303.95 525.79l12.00 12.00M303.95 537.79l12.00 -12.00M308.95 520.81l12.00 12.00M308.95 532.81l12.00 -12.00M313.94 515.84l12.00 12.00M313.94 527.84l12.00 -12.00M318.93 510.87l12.00 12.00M318.93 522.87l12.00 -12.00M323.92 505.90l12.00 12.00M323.92 517.90l12.00 -12.00M328.91 500.93l12.00 12.00M328.91 512.93l12.00 -12.00M333.91 495.95l12.00 12.00M333.91 507.95l12.00 -12.00M338.90 491.18l12.00 12.00M338.90 503.18l12.00 -12.00M343.89 486.50l12.00 12.00M343.89 498.50l12.00 -12.00M348.88 481.83l12.00 12.00M348.88 493.83l12.00 -12.00M353.87 477.44l12.00 12.00M353.87 489.44l12.00 -12.00M358.86 473.66l12.00 12.00M358.86 485.66l12.00 -12.00M363.86 469.89l12.00 12.00M363.86 481.89l12.00 -12.00M368.85 466.12l12.00 12.00M368.85 478.12l12.00 -12.00M373.84 461.76l12.00 12.00M373.84 473.76l12.00 -12.00M378.83 457.39l12.00 12.00M378.83 469.39l12.00 -12.00M383.82 453.02l12.00 12.00M383.82 465.02l12.00 -12.00M388.81 448.55l12.00 12.00M388.81 460.55l12.00 -12.00M393.81 444.03l12.00 12.00M393.81 456.03l12.00 -12.00M398.80 439.50l12.00 12.00M398.80 451.50l12.00 -12.00M403.79 434.94l12.00 12.00M403.79 446.94l12.00 -12.00M408.78 430.26l12.00 12.00M408.78 442.26l12.00 -12.00M413.77 425.59l12.00 12.00M413.77 437.59l12.00 -12.00M418.77 420.92l12.00 12.00M418.77 432.92l12.00 -12.00M423.76 416.25l12.00 12.00M423.76 428.25l12.00 -12.00M428.75 411.58l12.00 12.00M428.75 423.58l12.00 -12.00M433.74 406.90l12.00 12.00M433.74 418.90l12.00 -12.00M438.73 402.32l12.00 12.00M438.73 414.32l12.00 -12.00M443.72 397.80l12.00 12.00M443.72 409.80l12.00 -12.00M448.72 393.28l12.00 12.00M448.72 405.28l12.00 -12.00M453.71 388.80l12.00 12.00M453.71 400.80l12.00 -12.00M458.70 384.42l12.00 12.00M458.70 396.42l12.00 -12.00M463.69 380.05l12.00 12.00M463.69 392.05l12.00 -12.00M468.68 375.68l12.00 12.00M468.68 387.68l12.00 -12.00M473.67 370.80l12.00 12.00M473.67 382.80l12.00 -12.00M478.67 365.89l12.00 12.00M478.67 377.89l12.00 -12.00M483.66 360.98l12.00 12.00M483.66 372.98l12.00 -12.00M488.65 356.01l12.00 12.00M488.65 368.01l12.00 -12.00M493.64 351.01l12.00 12.00M493.64 363.01l12.00 -12.00M498.63 346.01l12.00 12.00M498.63 358.01l12.00 -12.00M503.62 340.99l12.00 12.00M503.62 352.99l12.00 -12.00M508.62 335.93l12.00 12.00M508.62 347.93l12.00 -12.00M513.61 330.87l12.00 12.00M513.61 342.87l12.00 -12.00M518.60 325.81l12.00 12.00M518.60 337.81l12.00 -12.00M523.59 320.88l12.00 12.00M523.59 332.88l12.00 -12.00M528.58 315.97l12.00 12.00M528.58 327.97l12.00 -12.00M533.58 311.06l12.00 12.00M533.58 323.06l12.00 -12.00M538.57 306.01l12.00 12.00M538.57 318.01l12.00 -12.00M543.56 300.86l12.00 12.00M543.56 312.86l12.00 -12.00M548.55 295.70l12.00 12.00M548.55 307.70l12.00 -12.00M553.54 290.55l12.00 12.00M553.54 302.55l12.00 -12.00M558.53 285.40l12.00 12.00M558.53 297.40l12.00 -12.00M563.53 280.25l12.00 12.00M563.53 292.25l12.00 -12.00M568.52 275.10l12.00 12.00M568.52 287.10l12.00 -12.00M573.51 270.05l12.00 12.00M573.51 282.05l12.00 -12.00M578.50 265.02l12.00 12.00M578.50 277.02l12.00 -12.00M583.49 259.99l12.00 12.00M583.49 271.99l12.00 -12.00M588.48 255.03l12.00 12.00M588.48 267.03l12.00 -12.00M593.48 250.11l12.00 12.00M593.48 262.11l12.00 -12.00M598.47 245.20l12.00 12.00M598.47 257.20l12.00 -12.00M603.46 240.49l12.00 12.00M603.46 252.49l12.00 -12.00M608.45 236.48l12.00 12.00M608.45 248.48l12.00 -12.00M613.44 232.47l12.00 12.00M613.44 244.47l12.00 -12.00M618.44 228.45l12.00 12.00M618.44 240.45l12.00 -12.00M623.43 224.31l12.00 12.00M623.43 236.31l12.00 -12.00M628.42 220.14l12.00 12.00M628.42 232.14l12.00 -12.00M633.41 215.98l12.00 12.00M633.41 227.98l12.00 -12.00M638.40 211.49l12.00 12.00M638.40 223.49l12.00 -12.00M643.39 206.73l12.00 12.00M643.39 218.73l12.00 -12.00M648.39 201.97l12.00 12.00M648.39 213.97l12.00 -12.00M653.38 197.31l12.00 12.00M653.38 209.31l12.00 -12.00M658.37 193.06l12.00 12.00M658.37 205.06l12.00 -12.00M663.36 188.80l12.00 12.00M663.36 200.80l12.00 -12.00M668.35 184.55l12.00 12.00M668.35 196.55l12.00 -12.00M673.34 180.61l12.00 12.00M673.34 192.61l12.00 -12.00M678.34 176.72l12.00 12.00M678.34 188.72l12.00 -12.00M683.33 172.82l12.00 12.00M683.33 184.82l12.00 -12.00M688.32 168.93l12.00 12.00M688.32 180.93l12.00 -12.00M693.31 165.04l12.00 12.00M693.31 177.04l12.00 -12.00M698.30 161.14l12.00 12.00M698.30 173.14l12.00 -12.00M703.30 157.25l12.00 12.00M703.30 169.25l12.00 -12.00M708.29 153.36l12.00 12.00M708.29 165.36l12.00 -12.00M713.28 149.46l12.00 12.00M713.28 161.46l12.00 -12.00M718.27 145.57l12.00 12.00M718.27 157.57l12.00 -12.00M723.26 141.68l12.00 12.00M723.26 153.68l12.00 -12.00M728.25 137.78l12.00 12.00M728.25 149.78l12.00 -12.00M733.25 133.89l12.00 12.00M733.25 145.89l12.00 -12.00M738.24 130.21l12.00 12.00M738.24 142.21l12.00 -12.00M743.23 126.74l12.00 12.00M743.23 138.74l12.00 -12.00M748.22 123.26l12.00 12.00M748.22 135.26l12.00 -12.00M753.21 119.76l12.00 12.00M753.21 131.76l12.00 -12.00M758.20 116.10l12.00 12.00M758.20 128.10l12.00 -12.00M763.20 112.45l12.00 12.00M763.20 124.45l12.00 -12.00M768.19 108.79l12.00 12.00M768.19 120.79l12.00 -12.00M773.18 106.39l12.00 12.00M773.18 118.39l12.00 -12.00M778.17 104.24l12.00 12.00M778.17 116.24l12.00 -12.00M783.16 102.08l12.00 12.00M783.16 114.08l12.00 -12.00M788.16 100.25l12.00 12.00M788.16 112.25l12.00 -12.00M793.15 98.76l12.00 12.00M793.15 110.76l12.00 -12.00M798.14 97.26l12.00 12.00M798.14 109.26l12.00 -12.00M803.13 95.83l12.00 12.00M803.13 107.83l12.00 -12.00M808.12 94.75l12.00 12.00M808.12 106.75l12.00 -12.00M813.11 93.67l12.00 12.00M813.11 105.67l12.00 -12.00M818.11 92.59l12.00 12.00M818.11 104.59l12.00 -12.00M823.10 90.33l12.00 12.00M823.10 102.33l12.00 -12.00M828.09 87.82l12.00 12.00M828.09 99.82l12.00 -12.00M833.08 85.30l12.00 12.00M833.08 97.30l12.00 -12.00M838.07 83.06l12.00 12.00M838.07 95.06l12.00 -12.00M843.06 81.11l12.00 12.00M843.06 93.11l12.00 -12.00M848.06 79.17l12.00 12.00M848.06 91.17l12.00 -12.00M853.05 77.31l12.00 12.00M853.05 89.31l12.00 -12.00M858.04 75.96l12.00 12.00M858.04 87.96l12.00 -12.00M863.03 74.61l12.00 12.00M863.03 86.61l12.00 -12.00M868.02 73.26l12.00 12.00M868.02 85.26l12.00 -12.00M873.02 72.81l12.00 12.00M873.02 84.81l12.00 -12.00M878.01 72.57l12.00 12.00M878.01 84.57l12.00 -12.00M883.00 72.33l12.00 12.00M883.00 84.33l12.00 -12.00M887.99 72.17l12.00 12.00M887.99 84.17l12.00 -12.00M892.98 72.11l12.00 12.00M892.98 84.11l12.00 -12.00M897.97 72.05l12.00 12.00M897.97 84.05l12.00 -12.00M902.97 71.90l12.00 12.00M902.97 83.90l12.00 -12.00M907.96 71.09l12.00 12.00M907.96 83.09l12.00 -12.00M912.95 70.28l12.00 12.00M912.95 82.28l12.00 -12.00M917.94 69.47l12.00 12.00M917.94 81.47l12.00 -12.00M922.93 68.76l12.00 12.00M922.93 80.76l12.00 -12.00M927.92 68.08l12.00 12.00M927.92 80.08l12.00 -12.00M932.92 67.40l12.00 12.00M932.92 79.40l12.00 -12.00" stroke="#7E2F8E" stroke-width="4.50"/>
<text transform="translate(80.50 760.30) scale(1 1.055)" font-size="27.00" text-anchor="middle">0</text>
<text transform="translate(258.70 760.30) scale(1 1.055)" font-size="27.00" text-anchor="middle">500</text>
<text transform="translate(436.90 760.30) scale(1 1.055)" font-size="27.00" text-anchor="middle">1000</text>
<text transform="translate(615.10 760.30) scale(1 1.055)" font-size="27.00" text-anchor="middle">1500</text>
<text transform="translate(793.30 760.30) scale(1 1.055)" font-size="27.00" text-anchor="middle">2000</text>
<text transform="translate(971.50 760.30) scale(1 1.055)" font-size="27.00" text-anchor="middle">2500</text>
<text transform="translate(68.20 733.20) scale(1 1.055)" font-size="27.00" text-anchor="end">0</text>
<text transform="translate(68.20 664.37) scale(1 1.055)" font-size="27.00" text-anchor="end">1</text>
<text transform="translate(68.20 595.54) scale(1 1.055)" font-size="27.00" text-anchor="end">2</text>
<text transform="translate(68.20 526.71) scale(1 1.055)" font-size="27.00" text-anchor="end">3</text>
<text transform="translate(68.20 457.88) scale(1 1.055)" font-size="27.00" text-anchor="end">4</text>
<text transform="translate(68.20 389.05) scale(1 1.055)" font-size="27.00" text-anchor="end">5</text>
<text transform="translate(68.20 320.22) scale(1 1.055)" font-size="27.00" text-anchor="end">6</text>
<text transform="translate(68.20 251.39) scale(1 1.055)" font-size="27.00" text-anchor="end">7</text>
<text transform="translate(68.20 182.56) scale(1 1.055)" font-size="27.00" text-anchor="end">8</text>
<text transform="translate(68.20 113.73) scale(1 1.055)" font-size="27.00" text-anchor="end">9</text>
<text transform="translate(68.20 44.90) scale(1 1.055)" font-size="27.00" text-anchor="end">10</text>
<text transform="translate(82.80 32.90) scale(1.114 1.000)" font-size="30.0" font-weight="normal" style="font-weight:normal">×</text>
<text transform="translate(103.50 27.80) scale(1 1.055)" font-size="27.00" text-anchor="start">10</text>
<text transform="translate(135.50 15.20) scale(1 1.055)" font-size="20.20" text-anchor="start">6</text>
<text transform="translate(525.20 796.80) scale(1 1.020)" font-size="30.00" text-anchor="middle">Time (s)</text>
<text transform="translate(22.00 381.20) rotate(-90) scale(1 1.020)" font-size="29.55" text-anchor="middle">Throughput (no of packets)</text>
<rect x="664.58" y="246.50" width="306.92" height="126.70" fill="#fff" stroke="#262626" stroke-width="1.70"/>
<path d="M673.33 265.10H755.00M708.08 259.10l12.00 12.00M708.08 271.10l12.00 -12.00" stroke="#0072BD" stroke-width="4.60"/>
<text transform="translate(762.00 271.90) scale(1 1.015)" font-size="24.60" text-anchor="start" fill="#000" style="fill:#000">NO Compression</text>
<path d="M673.33 295.05H755.00M708.08 289.05l12.00 12.00M708.08 301.05l12.00 -12.00" stroke="#D95319" stroke-width="4.60"/>
<text transform="translate(762.00 301.85) scale(1 1.015)" font-size="24.60" text-anchor="start" fill="#000" style="fill:#000">OMP-BCS</text>
<path d="M673.33 325.00H755.00M708.08 319.00l12.00 12.00M708.08 331.00l12.00 -12.00" stroke="#EDB120" stroke-width="4.60"/>
<text transform="translate(762.00 331.80) scale(1 1.015)" font-size="24.60" text-anchor="start" fill="#000" style="fill:#000">CoSaMP</text>
<path d="M673.33 354.95H755.00M708.08 348.95l12.00 12.00M708.08 360.95l12.00 -12.00" stroke="#7E2F8E" stroke-width="4.60"/>
<text transform="translate(762.00 361.75) scale(1 1.015)" font-size="24.60" text-anchor="start" fill="#000" style="fill:#000">SP-AMP-SBI</text>
</g>
</svg>
</body></html>
